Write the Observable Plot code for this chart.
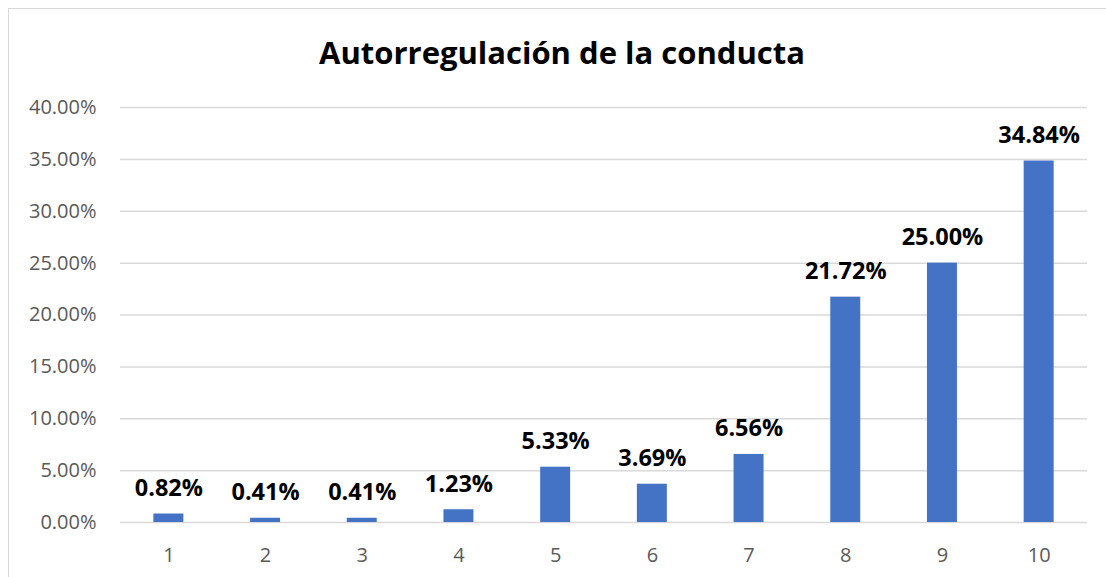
<!DOCTYPE html>
<html>
<head>
<meta charset="utf-8">
<script src="https://cdn.jsdelivr.net/npm/d3@7"></script>
<script src="https://cdn.jsdelivr.net/npm/@observablehq/plot@0.6"></script>
<style>
  html, body { margin: 0; padding: 0; background: #fff; }
  body { width: 1106px; height: 577px; position: relative; overflow: hidden; font-family: "Open Sans", sans-serif; }
  #frame { position: absolute; left: 8px; top: 8px; width: 1120px; height: 600px; border: 1px solid #d9d9d9; box-sizing: border-box; }
  #title { position: absolute; left: 0; top: 0; width: 1124px; height: 80px; text-align: center; font-weight: 700; font-size: 31px; line-height: 31px; padding-top: 36px; box-sizing: border-box; color: #000; }
  #chart { position: absolute; left: 0; top: 80px; }
</style>
</head>
<body>
<div id="frame"></div>
<div id="title"><span style="position:relative; top:1px">Autorregulación de la conducta</span></div>
<div id="chart"></div>
<script>
const categories = ["1", "2", "3", "4", "5", "6", "7", "8", "9", "10"];
const values = [0.0082, 0.0041, 0.0041, 0.0123, 0.0533, 0.0369, 0.0656, 0.2172, 0.2500, 0.3484];
const yTicks = [0, 0.05, 0.10, 0.15, 0.20, 0.25, 0.30, 0.35, 0.40];

const data = categories.map((c, i) => ({cat: c, value: values[i]}));
const pct = d3.format(".2%");

const chart = Plot.plot({
  width: 1106,
  height: 497,
  marginTop: 27,
  marginBottom: 55,
  marginLeft: 120,
  marginRight: 19,
  style: {fontFamily: "'Open Sans', sans-serif", background: "transparent"},
  x: {domain: categories, paddingInner: 0.69, paddingOuter: 0.345, round: false, label: null},
  y: {domain: [0, 0.40], label: null},
  marks: [
    Plot.gridY(yTicks, {stroke: "#d9d9d9", strokeOpacity: 1, strokeWidth: 1.5}),
    Plot.axisY({ticks: yTicks, tickFormat: pct, tickSize: 0, tickPadding: 24, fontSize: 20, fill: "#595959", label: null}),
    Plot.axisX({tickSize: 0, tickPadding: 25, fontSize: 20, fill: "#595959", label: null}),
    Plot.barY(data, {x: "cat", y: "value", fill: "#4472c4"}),
    Plot.text(data, {x: "cat", y: "value", text: d => pct(d.value), dy: -18, lineAnchor: "bottom", fontSize: 23.5, fontWeight: 700, fill: "#000"})
  ]
});
document.getElementById("chart").append(chart);
</script>
</body>
</html>
